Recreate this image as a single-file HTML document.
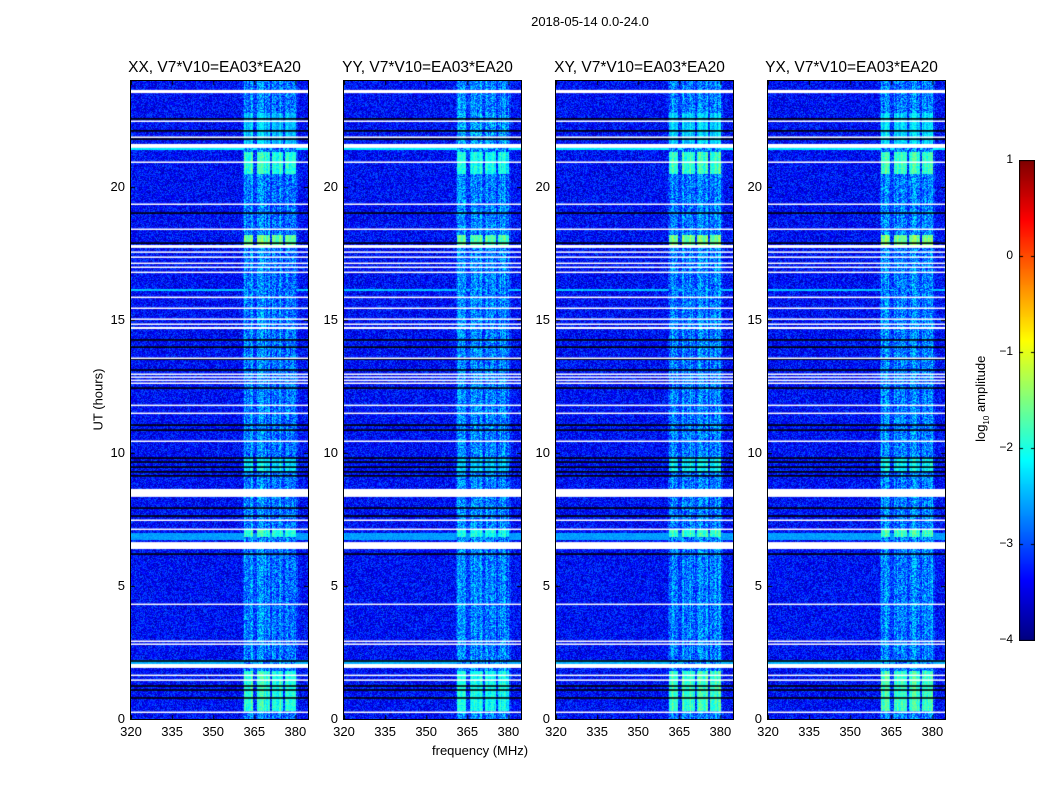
<!DOCTYPE html>
<html><head><meta charset="utf-8"><style>
body{margin:0;background:#fff;width:1050px;height:800px;overflow:hidden;font-family:"Liberation Sans",sans-serif;}
#root{position:relative;width:1050px;height:800px;}
canvas{position:absolute;}
.t{position:absolute;color:#000;white-space:nowrap;}
</style></head><body>
<div id="root">
<div class="t" style="left:0;width:1180px;text-align:center;top:14px;font-size:13px;">2018-05-14 0.0-24.0</div>
<div class="t" style="left:432px;top:743px;font-size:13px;">frequency (MHz)</div>
<div class="t" style="left:48px;top:392px;font-size:13px;transform:rotate(-90deg);transform-origin:center;width:100px;text-align:center;">UT (hours)</div>
<div class="t" style="left:922px;top:390px;font-size:13px;transform:rotate(-90deg);width:120px;text-align:center;">log<sub style="font-size:8px">10</sub> amplitude</div>
<canvas id="cb" width="16" height="481" style="left:1019px;top:160px;"></canvas>
</div>
<script>
const panelTitles=["XX, V7*V10=EA03*EA20","YY, V7*V10=EA03*EA20","XY, V7*V10=EA03*EA20","YX, V7*V10=EA03*EA20"];
const panelLeft=[131,344,556,768];
const panelGain=[1.0,1.1,0.97,0.97];
const freqTicks=[320,335,350,365,380];
const timeTicks=[0,5,10,15,20];
const cbTicks=[1,0,-1,-2,-3,-4];
const whiteBands=[[23.53,23.65],[22.46,22.5],[21.86,21.9],[21.47,21.62],[20.92,20.96],[19.34,19.38],[18.4,18.44],[17.71,17.82],[17.54,17.58],[17.35,17.39],[17.12,17.16],[16.97,17.01],[16.78,16.82],[15.84,15.88],[15.43,15.47],[15.02,15.06],[14.83,14.87],[14.66,14.74],[13.55,13.59],[12.95,12.99],[12.84,12.88],[12.72,12.76],[12.61,12.65],[11.78,11.82],[11.48,11.52],[10.43,10.47],[8.35,8.65],[7.46,7.5],[7.12,7.16],[6.39,6.65],[4.3,4.34],[2.91,2.95],[2.8,2.84],[1.92,2.07],[1.63,1.67],[1.45,1.49],[0.24,0.28]];
const blackLines=[22.56,22.11,21.8,19.02,17.89,14.25,13.98,13.53,13.12,12.44,11.05,10.86,9.81,9.66,9.47,9.29,9.14,7.93,7.63,6.2,2.18,1.24,1.09,0.79];
const wideBands=[[16.08,16.18,-2.4],[6.73,6.99,-2.6],[2.08,2.2,-2.5],[21.4,21.47,-2.2]];
const bandEvents=[[20.5,21.3,-1.9],[17.75,18.2,-1.6],[6.85,7.15,-1.9],[0.3,1.8,-1.9],[9.3,9.8,-2.2],[21.6,22.8,-2.4]];
const subBands=[[361.2,364.5],[365.9,370.6],[371.4,375.4],[376.2,380.2]];
const X0=320,X1=384.6,Y0=719,PXH=26.6,W=177,H=638;
function xs(f){return (f-X0)/(X1-X0)*W;}
function ys(h){return Y0-h*PXH;}
function jet(v){v=Math.max(0,Math.min(1,v));
 const r=Math.max(0,Math.min(1,1.5-Math.abs(4*v-3))),g=Math.max(0,Math.min(1,1.5-Math.abs(4*v-2))),b=Math.max(0,Math.min(1,1.5-Math.abs(4*v-1)));
 return [r*255|0,g*255|0,b*255|0];}
function hash(a,b,c){let h=(a*374761393+b*668265263+c*2147483647)|0;h=(h^(h>>>13))*1274126177|0;return ((h^(h>>>16))>>>0)/4294967296;}
const root=document.getElementById('root');
function txt(s,l,t,cls,name,extra){const d=document.createElement('div');d.className='t';d.textContent=s;d.style.left=l+'px';d.style.top=t+'px';if(extra)d.style.cssText+=extra;


root.appendChild(d);return d;}
panelLeft.forEach((L,p)=>{
 const c=document.createElement('canvas');c.width=W;c.height=H;c.style.left=L+'px';c.style.top=(Y0-H)+'px';c.style.outline='1px solid #000';
 
 
 root.appendChild(c);
 const ctx=c.getContext('2d'),img=ctx.createImageData(W,H);
 const colOff=[];for(let x=0;x<W;x++)colOff.push((hash(x,3,p+11)-0.5)*0.5);
 for(let y=0;y<H;y++){const h=(Y0-(y+(Y0-H))-0.5)/PXH;
  let wide=null;for(const w of wideBands)if(h>=w[0]&&h<=w[1])wide=w[2];
  let ev=-2.75;for(const e of bandEvents)if(h>=e[0]&&h<=e[1])ev=Math.max(ev,e[2]*panelGain[p]);
  for(let x=0;x<W;x++){const f=X0+(x+0.5)/W*(X1-X0);
   let v=-3.35+(hash(x,y,p)-0.5)*0.9;
   let inb=false;for(const s of subBands)if(f>=s[0]&&f<=s[1])inb=true;
   if(inb)v=ev+colOff[x]+(hash(x,y,p+7)-0.5)*(ev>-2.5?0.5:1.1);else if(f>=361&&f<=381)v=-3.1+(hash(x,y,p+3)-0.5)*0.9;
   if(wide!==null&&!inb)v=wide+(hash(x,y,p+5)-0.5)*0.25;
   const col=jet((v+4)/5),i=(y*W+x)*4;img.data[i]=col[0];img.data[i+1]=col[1];img.data[i+2]=col[2];img.data[i+3]=255;}}
 ctx.putImageData(img,0,0);
 ctx.fillStyle='#000';blackLines.forEach(h=>ctx.fillRect(0,ys(h)-(Y0-H)-0.8,W,1.6));
 ctx.fillStyle='#fff';whiteBands.forEach(b=>{const y1=ys(b[1])-(Y0-H),y0=ys(b[0])-(Y0-H);ctx.fillRect(0,y1,W,Math.max(1.5,y0-y1));});
 ctx.fillStyle='#000';freqTicks.forEach(f=>{ctx.fillRect(xs(f),0,1,4);ctx.fillRect(xs(f),H-4,1,4);});
 timeTicks.forEach(h=>{ctx.fillRect(0,ys(h)-(Y0-H),4,1);ctx.fillRect(W-4,ys(h)-(Y0-H),4,1);});
 txt(panelTitles[p],L-14,59,'','panel-title-'+p,'font-size:15.5px;width:195px;text-align:center;');
 freqTicks.forEach(f=>txt(String(f),L+xs(f)-15,724,'','x-tick-label','font-size:13px;width:30px;text-align:center;'));
 timeTicks.forEach(h=>txt(String(h),L-36,ys(h)-8,'','y-tick-label','font-size:13px;width:30px;text-align:right;'));
});
const cb=document.getElementById('cb').getContext('2d');
for(let y=0;y<481;y++){const col=jet(1-y/480);cb.fillStyle=`rgb(${col})`;cb.fillRect(0,y,16,1);}
cb.strokeStyle='#000';cb.strokeRect(0.5,0.5,15,480);
cbTicks.forEach(v=>{const y=(1-v)*96;cb.fillStyle='#000';cb.fillRect(0,y,4,1);cb.fillRect(12,y,4,1);
 txt(String(v).replace('-','\u2212'),975,160+y-8,'','colorbar-tick-label','font-size:12px;width:38px;text-align:right;');});
</script>
</body></html>
